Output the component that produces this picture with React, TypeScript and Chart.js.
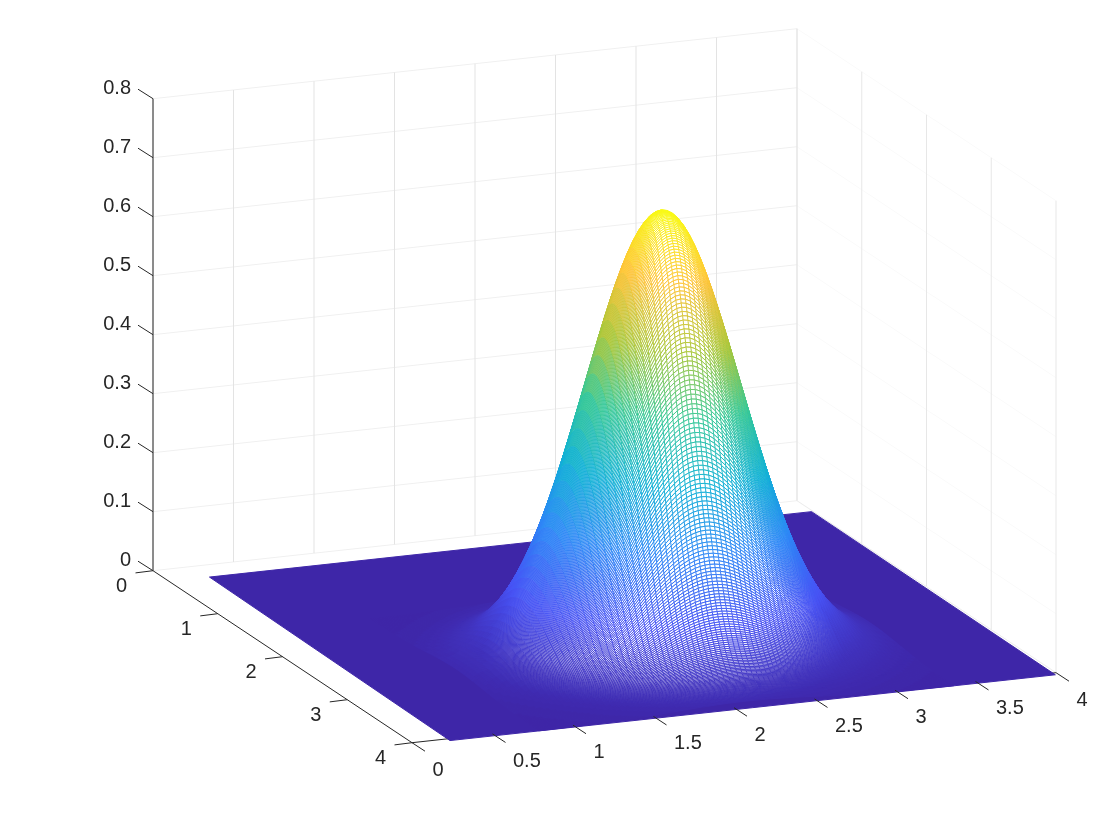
import React, { useEffect, useRef } from "react";
import { Chart, registerables } from "chart.js";

Chart.register(...registerables);

const xTicks = [0, 0.5, 1, 1.5, 2, 2.5, 3, 3.5, 4];
const xTickLabels = ["0", "0.5", "1", "1.5", "2", "2.5", "3", "3.5", "4"];
const yTicks = [0, 1, 2, 3, 4];
const yTickLabels = ["0", "1", "2", "3", "4"];
const zTicks = [0, 0.1, 0.2, 0.3, 0.4, 0.5, 0.6, 0.7, 0.8];
const zTickLabels = ["0", "0.1", "0.2", "0.3", "0.4", "0.5", "0.6", "0.7", "0.8"];

const surfaceX = [0.25, 3.99, 3.98, 0.22, 0.25];
const surfaceY = [0.25, 0.25, 4.04, 4.04, 0.25];

const zPeak = 0.75;
const peakX = 2.06;
const peakY = 2.75;
const sampleStep = 0.0075;
const columnStride = 4;
const lastFrontRow = 172;
const faintLimit = 0.003;
const minFaceArea = 3.5;
const faceAreaFade = 3;

// relative height of the bump, read outward from its crest at each sample step
const zProfile = [
  1, 0.9999, 0.9994, 0.9988, 0.9978, 0.9965, 0.995, 0.9932, 0.9912, 0.9888,
  0.9862, 0.9833, 0.9802, 0.9768, 0.9731, 0.9692, 0.9651, 0.9607, 0.956, 0.9511,
  0.946, 0.9406, 0.935, 0.9292, 0.9231, 0.9169, 0.9104, 0.9037, 0.8968, 0.8898,
  0.8825, 0.875, 0.8674, 0.8596, 0.8517, 0.8435, 0.8353, 0.8268, 0.8183, 0.8096,
  0.8007, 0.7918, 0.7827, 0.7735, 0.7642, 0.7548, 0.7454, 0.7358, 0.7261, 0.7164,
  0.7066, 0.6968, 0.6869, 0.677, 0.667, 0.657, 0.6469, 0.6368, 0.6268, 0.6166,
  0.6065, 0.5965, 0.5863, 0.5762, 0.5662, 0.5561, 0.5461, 0.5361, 0.5261, 0.5162,
  0.5063, 0.4965, 0.4868, 0.477, 0.4674, 0.4578, 0.4483, 0.4389, 0.4296, 0.4203,
  0.4111, 0.402, 0.393, 0.3841, 0.3753, 0.3666, 0.358, 0.3495, 0.3411, 0.3328,
  0.3247, 0.3166, 0.3086, 0.3008, 0.2931, 0.2855, 0.278, 0.2707, 0.2635, 0.2563,
  0.2494, 0.2425, 0.2357, 0.2291, 0.2226, 0.2163, 0.21, 0.2039, 0.1979, 0.192,
  0.1863, 0.1806, 0.1751, 0.1698, 0.1645, 0.1593, 0.1543, 0.1494, 0.1446, 0.1399,
  0.1353, 0.1309, 0.1265, 0.1223, 0.1182, 0.1142, 0.1103, 0.1064, 0.1027, 0.0991,
  0.0956, 0.0922, 0.0889, 0.0857, 0.0826, 0.0796, 0.0766, 0.0738, 0.071, 0.0683,
  0.0657, 0.0632, 0.0608, 0.0584, 0.0561, 0.0539, 0.0518, 0.0497, 0.0477, 0.0458,
  0.0439, 0.0421, 0.0404, 0.0387, 0.0371, 0.0356, 0.034, 0.0326, 0.0312, 0.0299,
  0.0286, 0.0273, 0.0261, 0.025, 0.0239, 0.0228, 0.0218, 0.0208, 0.0198, 0.0189,
  0.0181, 0.0172, 0.0164, 0.0157, 0.0149, 0.0142,
];

const parulaStops = [
  [0.2422, 0.1504, 0.6603],
  [0.281, 0.3228, 0.9579],
  [0.1786, 0.5289, 0.9682],
  [0.0689, 0.6948, 0.8394],
  [0.2161, 0.7843, 0.5923],
  [0.672, 0.7793, 0.2227],
  [0.997, 0.7659, 0.2199],
  [0.9769, 0.9839, 0.0805],
];

const project = (x: number, y: number, z: number) => ({
  x: 153 + 161 * x + 64.75 * y,
  y: 570.7 - 17.5 * x + 43 * y - 590 * z,
});

const palette: string[] = [];
for (let i = 0; i < 256; i++) {
  const t = (i / 255) * (parulaStops.length - 1);
  const a = Math.min(Math.floor(t), parulaStops.length - 2);
  const f = t - a;
  const c = parulaStops[a].map((v, n) => Math.round(255 * (v + (parulaStops[a + 1][n] - v) * f)));
  palette.push(`rgb(${c[0]},${c[1]},${c[2]})`);
}
const colorOf = (z: number) => palette[Math.max(0, Math.min(255, Math.round((z / zPeak) * 255)))];

const AXIS = "#262626";
const LINE_W = 0.95;

type Row = { z: number[] };
type Pt = { x: number; y: number };

function segmentDataset(points: Pt[], color: string, order: number, width = 1) {
  return {
    data: points,
    showLine: true,
    borderColor: color,
    borderWidth: width,
    pointRadius: 0,
    order,
    clip: false,
  };
}

const faceArea = (a: Pt, b: Pt, c: Pt, d: Pt) =>
  Math.abs((c.x - a.x) * (d.y - b.y) - (d.x - b.x) * (c.y - a.y)) / 2;

export default function App() {
  const ref = useRef<HTMLCanvasElement>(null);
  useEffect(() => {
    const datasets: any[] = [];
    let order = 1000000;
    const add = (pts: number[][], color: string, width = 1) => {
      datasets.push(segmentDataset(pts.map((p) => project(p[0], p[1], p[2])), color, order--, width));
    };
    const top = zTicks[zTicks.length - 1];

    // walls and the floor's outer edges
    zTicks.forEach((z) => {
      add([[0, 0, z], [4, 0, z]], "#F0F0F0");
      add([[4, 0, z], [4, 4, z]], "#FAFAFA");
    });
    xTicks.forEach((x) => add([[x, 0, 0], [x, 0, top]], "#E3E3E3"));
    yTicks.forEach((y) => add([[4, y, 0], [4, y, top]], "#E7E7E7"));
    add([[4, 0, 0], [4, 4, 0]], "#ECECEC");

    // axis lines
    add([[0, 0, 0], [0, 0, top]], AXIS);
    add([[0, 0, 0], [0, 4, 0]], AXIS);
    add([[0, 4, 0], [4, 4, 0]], AXIS);

    // flat part of the surface
    datasets.push({
      data: surfaceX.map((x, i) => project(x, surfaceY[i], 0)),
      showLine: true,
      borderColor: colorOf(0),
      backgroundColor: colorOf(0),
      borderWidth: 1,
      pointRadius: 0,
      fill: "shape",
      order: order--,
      clip: false,
    });

    // rows of the mesh, back to front
    const last = zProfile.length - 1;
    const lastCol = Math.floor(last / columnStride);
    const rows: Row[] = [];
    const firstRow = datasets.length;
    for (let k = -last; k <= lastFrontRow; k++) {
      const yVal = peakY + k * sampleStep;
      const zs: number[] = [];
      const pts: Pt[] = [];
      for (let j = -lastCol; j <= lastCol; j++) {
        const z = zPeak * zProfile[Math.abs(j) * columnStride] * zProfile[Math.abs(k)];
        zs.push(z);
        pts.push(project(peakX + j * columnStride * sampleStep, yVal, z));
      }
      rows.push({ z: zs });
      const rowIndex = rows.length - 1;
      datasets.push({
        data: pts,
        showLine: true,
        borderWidth: LINE_W,
        pointRadius: 0,
        order: order--,
        clip: false,
        segment: { borderColor: (ctx: any) => colorOf(rows[rowIndex].z[ctx.p0DataIndex]) },
      });
    }

    const facesPlugin = {
      id: "faces",
      beforeDatasetDraw(chart: any, args: any) {
        const r = args.index - firstRow;
        if (r < 1) return;
        const now = args.meta.data;
        const prev = chart.getDatasetMeta(args.index - 1).data;
        const c = chart.ctx;
        const zs = rows[r].z;
        const zp = rows[r - 1].z;
        c.save();
        c.lineWidth = LINE_W;
        for (let j = now.length - 1; j >= 0; j--) {
          if (j > 0 && Math.max(zs[j], zs[j - 1], zp[j], zp[j - 1]) > faintLimit) {
            const area = faceArea(prev[j], prev[j - 1], now[j - 1], now[j]);
            if (area > minFaceArea) {
              c.globalAlpha = Math.min(1, (area - minFaceArea) / faceAreaFade);
              c.beginPath();
              c.moveTo(prev[j].x, prev[j].y);
              c.lineTo(prev[j - 1].x, prev[j - 1].y);
              c.lineTo(now[j - 1].x, now[j - 1].y);
              c.lineTo(now[j].x, now[j].y);
              c.closePath();
              c.fillStyle = "#ffffff";
              c.fill();
              c.globalAlpha = 1;
              c.strokeStyle = colorOf(zp[j - 1]);
              c.beginPath();
              c.moveTo(prev[j - 1].x, prev[j - 1].y);
              c.lineTo(prev[j].x, prev[j].y);
              c.stroke();
            }
          }
          if (zs[j] > faintLimit) {
            c.strokeStyle = colorOf(zs[j]);
            c.beginPath();
            c.moveTo(prev[j].x, prev[j].y);
            c.lineTo(now[j].x, now[j].y);
            c.stroke();
          }
        }
        c.restore();
      },
    };

    const ticksPlugin = {
      id: "axisTicks",
      afterDraw(chart: any) {
        const c = chart.ctx;
        const sx = chart.scales.x;
        const sy = chart.scales.y;
        const px = (p: Pt) => ({ x: sx.getPixelForValue(p.x), y: sy.getPixelForValue(p.y) });
        const tick = (p: Pt, dx: number, dy: number) => {
          const a = px(p);
          c.beginPath();
          c.moveTo(a.x, a.y);
          c.lineTo(a.x + dx, a.y + dy);
          c.stroke();
        };
        c.save();
        c.strokeStyle = AXIS;
        c.lineWidth = 1;
        c.fillStyle = AXIS;
        c.font = '20px "Liberation Sans"';
        c.textBaseline = "middle";
        c.textAlign = "right";
        zTicks.forEach((z, i) => {
          const p = project(0, 0, z);
          tick(p, -15, -9.5);
          const a = px(p);
          c.fillText(zTickLabels[i], 131, a.y - 10.5);
        });
        yTicks.forEach((y, i) => {
          const p = project(0, y, 0);
          tick(p, -17.5, 2.2);
          const a = px(p);
          c.fillText(yTickLabels[i], a.x - 26, a.y + 15.7);
        });
        c.textAlign = "left";
        xTicks.forEach((x, i) => {
          const p = project(x, 4, 0);
          tick(p, 13, 8.5);
          const a = px(p);
          c.fillText(xTickLabels[i], a.x + 20.5, a.y + 27.5);
        });
        c.restore();
      },
    };

    const chart = new Chart(ref.current!, {
      type: "scatter",
      data: { datasets },
      plugins: [facesPlugin, ticksPlugin],
      options: {
        animation: false,
        responsive: false,
        events: [],
        layout: { padding: 0 },
        plugins: { legend: { display: false }, tooltip: { enabled: false } },
        scales: {
          x: { type: "linear", min: 0, max: 1120, display: false },
          y: { type: "linear", min: 0, max: 840, reverse: true, display: false },
        },
      },
    } as any);
    return () => chart.destroy();
  }, []);
  return (
    <div style={{ position: "absolute", left: 0, top: 0, width: 1120, height: 840, background: "#fff" }}>
      <canvas ref={ref} width={1120} height={840} style={{ display: "block" }} />
    </div>
  );
}
